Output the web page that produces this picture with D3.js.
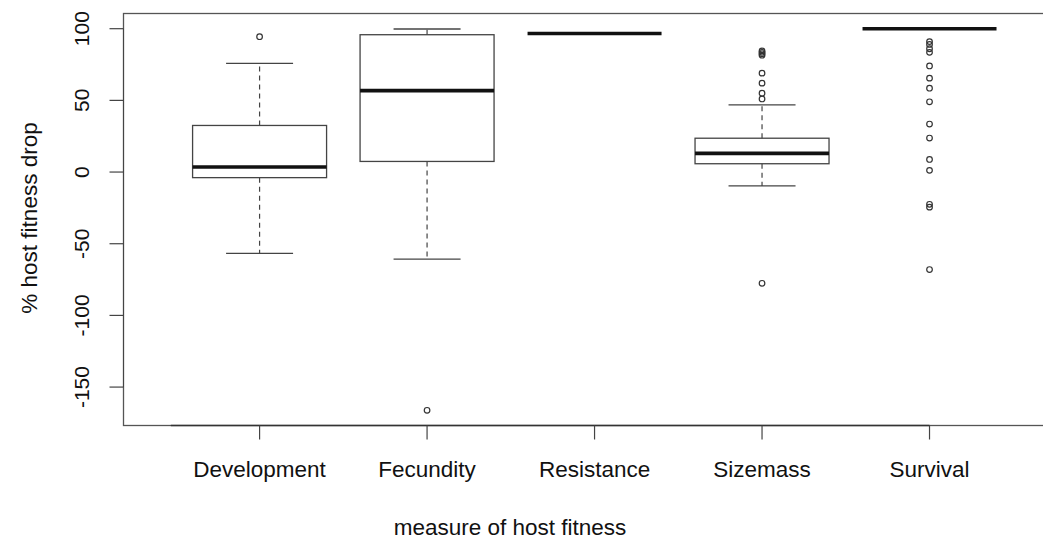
<!DOCTYPE html>
<html>
<head>
<meta charset="utf-8">
<script src="https://cdn.jsdelivr.net/npm/d3@7"></script>
<style>
    body { margin: 0; background: #fff; }
    text { font-family: 'Liberation Sans', Arial, sans-serif; fill: #111; }
</style>
</head>
<body>
<div class="Canvas"></div>
<script>
// box stats, one entry per category
const categories = ['Development', 'Fecundity', 'Resistance', 'Sizemass', 'Survival'];
const whiskerLow = [-56.7, -60.7, 96.7, -9.7, 100];
const quartileLow = [-3.9, 7.4, 96.7, 5.8, 100];
const medians = [3.5, 56.8, 96.7, 13.0, 100];
const quartileHigh = [32.5, 95.8, 96.7, 23.6, 100];
const whiskerHigh = [75.8, 99.8, 96.7, 46.9, 100];
const outliers = [
    [94.4],
    [-166.2],
    [],
    [84.5, 83.5, 82.5, 81.5, 69, 62, 55, 51, -77.6],
    [91, 89, 86, 83.5, 74, 65.5, 58.5, 49, 33.5, 23.7, 8.8, 1.2, -22.5, -24.5, -68],
];
const yTicks = [-150, -100, -50, 0, 50, 100];

const width = 1043;
const height = 541;
const plotLeft = 123.5;
const plotTop = 13.5;
const plotBottom = 425.5;
const boxWidth = 0.8; // in category units, like R's boxwex
const tickLength = 14;

let svg = d3.select('.Canvas').append('svg').attr('width', width).attr('height', height);

// category i sits at position i + 1; the plot region runs past the right edge of the picture
let x = d3.scaleLinear().domain([0.1875, 5.8125]).range([plotLeft, 1065.6]);
let y = d3.scaleLinear().domain([-176.8, 110.6]).range([plotBottom, plotTop]);

let stats = categories.map((c, i) => ({
    name: c,
    pos: i + 1,
    lo: whiskerLow[i],
    q1: quartileLow[i],
    med: medians[i],
    q3: quartileHigh[i],
    hi: whiskerHigh[i],
    out: outliers[i],
}));

let g = svg.append('g');

// plot frame
g.append('rect')
    .attr('x', plotLeft)
    .attr('y', plotTop)
    .attr('width', x(5.8125) - plotLeft)
    .attr('height', plotBottom - plotTop)
    .attr('fill', 'none')
    .attr('stroke', '#555')
    .attr('stroke-width', 1.3);

let boxes = g.selectAll('g.box').data(stats).enter().append('g').attr('class', 'box');

// dashed whiskers
boxes
    .append('line')
    .attr('x1', (d) => x(d.pos))
    .attr('x2', (d) => x(d.pos))
    .attr('y1', (d) => y(d.q3))
    .attr('y2', (d) => y(d.hi))
    .attr('stroke', '#444')
    .attr('stroke-width', 1.2)
    .attr('stroke-dasharray', '5,4');
boxes
    .append('line')
    .attr('x1', (d) => x(d.pos))
    .attr('x2', (d) => x(d.pos))
    .attr('y1', (d) => y(d.q1))
    .attr('y2', (d) => y(d.lo))
    .attr('stroke', '#444')
    .attr('stroke-width', 1.2)
    .attr('stroke-dasharray', '5,4');

// staples
['lo', 'hi'].forEach((k) => {
    boxes
        .filter((d) => d.hi > d.lo)
        .append('line')
        .attr('x1', (d) => x(d.pos - boxWidth / 4))
        .attr('x2', (d) => x(d.pos + boxWidth / 4))
        .attr('y1', (d) => y(d[k]))
        .attr('y2', (d) => y(d[k]))
        .attr('stroke', '#444')
        .attr('stroke-width', 1.3);
});

// boxes
boxes
    .filter((d) => d.q3 > d.q1)
    .append('rect')
    .attr('x', (d) => x(d.pos - boxWidth / 2))
    .attr('width', (d) => x(d.pos + boxWidth / 2) - x(d.pos - boxWidth / 2))
    .attr('y', (d) => y(d.q3))
    .attr('height', (d) => y(d.q1) - y(d.q3))
    .attr('fill', 'none')
    .attr('stroke', '#444')
    .attr('stroke-width', 1.3);

// medians
boxes
    .append('line')
    .attr('x1', (d) => x(d.pos - boxWidth / 2))
    .attr('x2', (d) => x(d.pos + boxWidth / 2))
    .attr('y1', (d) => y(d.med))
    .attr('y2', (d) => y(d.med))
    .attr('stroke', '#111')
    .attr('stroke-width', 3.6);

// outliers
boxes
    .selectAll('circle')
    .data((d) => d.out.map((v) => ({ pos: d.pos, v: v })))
    .enter()
    .append('circle')
    .attr('cx', (d) => x(d.pos))
    .attr('cy', (d) => y(d.v))
    .attr('r', 2.8)
    .attr('fill', 'none')
    .attr('stroke', '#333')
    .attr('stroke-width', 1.2);

// y axis
g.append('line')
    .attr('x1', plotLeft)
    .attr('x2', plotLeft)
    .attr('y1', y(yTicks[0]))
    .attr('y2', y(yTicks[yTicks.length - 1]))
    .attr('stroke', '#444');
g.selectAll('line.ytick')
    .data(yTicks)
    .enter()
    .append('line')
    .attr('class', 'ytick')
    .attr('x1', plotLeft - tickLength)
    .attr('x2', plotLeft)
    .attr('y1', (d) => y(d))
    .attr('y2', (d) => y(d))
    .attr('stroke', '#444')
    .attr('stroke-width', 1.2);
g.selectAll('text.ylabel')
    .data(yTicks)
    .enter()
    .append('text')
    .attr('class', 'ylabel')
    .attr('transform', (d) => `translate(89, ${y(d)}) rotate(-90)`)
    .attr('text-anchor', 'middle')
    .attr('font-size', '21px')
    .text((d) => d);

// x axis
g.append('line')
    .attr('x1', x(0.47))
    .attr('x2', x(5))
    .attr('y1', plotBottom)
    .attr('y2', plotBottom)
    .attr('stroke', '#333')
    .attr('stroke-width', 1.4);
g.selectAll('line.xtick')
    .data(stats)
    .enter()
    .append('line')
    .attr('class', 'xtick')
    .attr('x1', (d) => x(d.pos))
    .attr('x2', (d) => x(d.pos))
    .attr('y1', plotBottom)
    .attr('y2', plotBottom + tickLength)
    .attr('stroke', '#444')
    .attr('stroke-width', 1.2);
g.selectAll('text.xlabel')
    .data(stats)
    .enter()
    .append('text')
    .attr('class', 'xlabel')
    .attr('x', (d) => x(d.pos))
    .attr('y', 477)
    .attr('text-anchor', 'middle')
    .attr('font-size', '22.5px')
    .text((d) => d.name);

// axis titles
g.append('text')
    .attr('x', 510)
    .attr('y', 535)
    .attr('text-anchor', 'middle')
    .attr('font-size', '22.5px')
    .text('measure of host fitness');
g.append('text')
    .attr('transform', 'translate(36.5, 218) rotate(-90)')
    .attr('text-anchor', 'middle')
    .attr('font-size', '22.5px')
    .text('% host fitness drop');
</script>
</body>
</html>
